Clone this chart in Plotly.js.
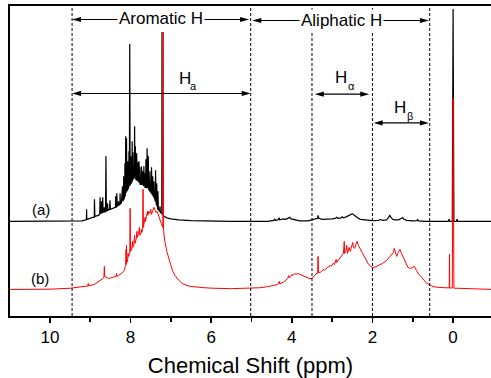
<!DOCTYPE html>
<html>
<head>
<meta charset="utf-8">
<script src="https://cdn.plot.ly/plotly-3.0.1.min.js"></script>
<style>
  html, body { margin: 0; padding: 0; background: #fff; }
  #chart { width: 491px; height: 378px; }
</style>
</head>
<body>
<div id="chart"></div>
<script>
// 1H NMR spectra, [chemical shift (ppm), intensity above baseline (a.u.)]
const spectrumA = [
  [11.0,0],[9.3,0],[9.2,0.5],[9.12,1.5],[9.095,1.5],[9.09,12],[9.085,2],[9.0,3],[8.95,4],[8.9,4],
  [8.895,22],[8.885,5],[8.8,6],[8.765,7],[8.755,24],[8.745,8],[8.725,9],[8.72,20],[8.71,8],[8.695,9],
  [8.69,24],[8.68,9],[8.655,10],[8.65,14],[8.64,9],[8.62,10],[8.61,65],[8.60,10],[8.575,11],[8.57,18],
  [8.56,11],[8.52,12],[8.51,21],[8.50,12],[8.45,13],[8.40,14],[8.375,14],[8.37,25],[8.36,14],[8.345,15],
  [8.34,28],[8.33,15],[8.305,16],[8.30,20],[8.29,16],[8.265,17],[8.26,28],[8.25,17],[8.225,19],[8.22,24],
  [8.21,19],[8.20,35],[8.19,20],[8.175,22],[8.17,45],[8.16,22],[8.145,25],[8.14,58],[8.13,25],[8.12,85],
  [8.115,28],[8.10,83],[8.09,30],[8.075,32],[8.07,60],[8.06,32],[8.045,35],[8.04,70],[8.03,35],[8.02,177],
  [8.01,36],[7.995,38],[7.99,65],[7.98,38],[7.965,40],[7.96,80],[7.955,40],[7.945,42],[7.94,69],[7.93,42],
  [7.905,44],[7.90,95],[7.89,44],[7.88,75],[7.87,42],[7.855,41],[7.85,68],[7.84,40],[7.825,40],[7.82,59],
  [7.81,40],[7.795,39],[7.79,60],[7.78,38],[7.77,54],[7.76,37],[7.735,37],[7.73,55],[7.72,37],[7.705,36],
  [7.70,50],[7.69,36],[7.675,35],[7.67,55],[7.66,35],[7.65,48],[7.64,34],[7.625,34],[7.62,62],[7.61,34],
  [7.595,33],[7.59,73],[7.58,33],[7.565,33],[7.56,65],[7.55,32],[7.525,30],[7.52,50],[7.51,30],[7.485,28],
  [7.48,54],[7.47,28],[7.455,26],[7.45,45],[7.44,26],[7.425,24],[7.42,40],[7.41,24],[7.385,20],[7.38,51],
  [7.37,20],[7.355,16],[7.35,38],[7.34,16],[7.325,12],[7.32,30],[7.31,12],[7.28,10],[7.27,15],[7.26,9],
  [7.225,8],[7.22,189],[7.215,7],[7.15,4.5],[7.1,3.5],[7.0,2.5],[6.8,1.5],[6.5,0.8],[6.0,0.3],[5.5,0],
  [4.6,0],[4.5,0.5],[4.45,1],[4.42,2.5],[4.41,1],[4.35,1.5],[4.31,3.5],[4.30,1.5],[4.25,2],[4.20,2.5],
  [4.15,2],[4.10,3],[4.05,4],[4.02,2.5],[3.97,2],[3.9,1],[3.8,0.5],[3.6,0.5],[3.5,1.5],[3.47,2],
  [3.40,2.5],[3.36,3],[3.35,6],[3.33,3],[3.25,2],[3.1,2],[3.0,2.5],[2.92,3],[2.89,4],[2.85,3],
  [2.78,3.5],[2.75,4.5],[2.72,3.5],[2.65,4.5],[2.60,5.5],[2.55,6.5],[2.50,7.7],[2.45,6],[2.40,4],[2.35,3],
  [2.3,2],[2.2,1.5],[2.1,1],[2.0,0.8],[1.85,1],[1.8,1.8],[1.75,1],[1.65,1.5],[1.6,4],[1.57,6],
  [1.54,4],[1.5,2],[1.45,1.5],[1.35,1.5],[1.28,3],[1.25,3.7],[1.22,2],[1.15,1],[1.0,0.5],[0.9,0.6],
  [0.88,2],[0.86,0.5],[0.7,0],[0.12,0],[0.1,2],[0.08,0],[0.02,0],[0.0,212],[-0.02,0],[-0.08,0],
  [-0.1,2],[-0.12,0],[-1.0,0]
];

const spectrumB = [
  [11.0,0],[10.0,0.3],[9.5,1.2],[9.2,2.5],[9.1,3],[9.055,3.5],[9.05,6],[9.045,3.5],[8.9,5],[8.8,7.5],
  [8.76,9],[8.70,10.5],[8.66,12],[8.65,23],[8.64,13],[8.60,12],[8.55,11],[8.5,11.5],[8.45,12],[8.40,13],
  [8.36,13],[8.35,16],[8.34,13],[8.3,14],[8.25,15],[8.22,16],[8.18,18],[8.15,19],[8.14,22],[8.12,24],
  [8.11,40],[8.105,25],[8.10,44],[8.09,27],[8.07,30],[8.06,36],[8.05,33],[8.02,35],[8.01,81],[8.0,38],
  [7.97,40],[7.95,48],[7.94,42],[7.92,44],[7.90,54],[7.89,46],[7.86,50],[7.84,58],[7.83,52],[7.80,56],
  [7.78,62],[7.77,54],[7.75,55],[7.73,60],[7.72,57],[7.70,60],[7.69,100],[7.68,62],[7.66,68],[7.64,72],
  [7.63,68],[7.60,73],[7.58,78],[7.57,74],[7.55,78],[7.52,76],[7.50,80],[7.48,75],[7.45,79],[7.42,82],
  [7.40,80],[7.37,77],[7.34,78],[7.31,74],[7.28,70],[7.24,66],[7.20,62],[7.19,257],[7.18,58],[7.15,48],
  [7.10,38],[7.05,30],[7.00,24],[6.95,18],[6.9,14],[6.8,9],[6.7,5.5],[6.6,4],[6.5,3],[6.2,1.8],
  [6.0,1.3],[5.5,0.8],[5.0,1],[4.8,1.7],[4.6,2.8],[4.46,4],[4.35,5],[4.31,8],[4.30,5.5],[4.2,7.5],
  [4.13,9.7],[4.10,11],[4.08,14],[4.06,11.5],[4.03,13],[4.00,15],[3.97,14],[3.93,16],[3.90,15],[3.85,16],
  [3.80,15],[3.75,14],[3.68,13],[3.60,11.5],[3.55,10.7],[3.50,11],[3.45,13],[3.40,15.5],[3.36,16],[3.35,33],
  [3.34,17],[3.30,17],[3.26,18],[3.22,20],[3.20,19],[3.14,21],[3.10,22],[3.05,24],[3.02,23],[2.98,26],
  [2.94,25],[2.90,30],[2.89,27],[2.85,29],[2.81,31],[2.76,33],[2.72,36],[2.70,48],[2.69,36],[2.66,38],
  [2.64,44],[2.62,36],[2.58,42],[2.55,38],[2.52,44],[2.49,47],[2.47,42],[2.44,41],[2.41,45],[2.38,48],
  [2.35,44],[2.31,41],[2.27,37],[2.23,34],[2.19,31],[2.15,28],[2.11,26],[2.05,23],[2.0,22],[1.95,22],
  [1.9,23],[1.82,24],[1.75,26],[1.65,29],[1.58,32],[1.53,34],[1.48,37],[1.46,41],[1.43,36],[1.40,33],
  [1.36,37],[1.32,40],[1.28,36],[1.24,32],[1.18,26],[1.12,22],[1.06,21],[1.0,22.5],[0.96,23],[0.91,19],
  [0.85,15],[0.78,12],[0.72,9],[0.66,6.3],[0.55,4],[0.5,3],[0.4,2.2],[0.25,1.7],[0.12,1.4],[0.095,1.5],
  [0.09,35],[0.085,1.5],[0.02,1.4],[0.0,191],[-0.02,1.3],[-0.5,0.5],[-1.0,0]
];

// Region boundaries (ppm)
const regionBounds = [9.45, 5.02, 3.5, 2.0, 0.58];
const xTicks = [10, 8, 6, 4, 2, 0];

// vertical stacking of the two spectra
const offsetA = 94.5;
const offsetB = 26.5;

const FONT = 'Liberation Sans, Arial, Helvetica, sans-serif';
const X_RANGE = [10.99, -0.94];
const Y_RANGE = [0, 309.5];

const traceA = {
  x: spectrumA.map(p => p[0]),
  y: spectrumA.map(p => p[1] + offsetA),
  mode: 'lines', line: {color: '#000000', width: 1.2},
  hoverinfo: 'skip', showlegend: false
};
const traceB = {
  x: spectrumB.map(p => p[0]),
  y: spectrumB.map(p => p[1] + offsetB),
  mode: 'lines', line: {color: '#ff0000', width: 1},
  hoverinfo: 'skip', showlegend: false
};

const shapes = regionBounds.map(v => ({
  type: 'line', xref: 'x', yref: 'paper', x0: v, x1: v, y0: 0, y1: 1,
  line: {color: '#000', width: 1, dash: '3px,2px'}
}));

// double-headed arrow drawn as a line plus two filled heads
// (head length/half-width given in pixels, converted to axis units)
const PLOT_W = 481, PLOT_H = 310;
const pxX = (X_RANGE[0] - X_RANGE[1]) / PLOT_W;
const pxY = (Y_RANGE[1] - Y_RANGE[0]) / PLOT_H;
function span(xl, xr, y) {
  const L = 9 * pxX, h = 2.6 * pxY;
  shapes.push({type: 'line', xref: 'x', yref: 'y', x0: xl - L * 0.5, x1: xr + L * 0.5, y0: y, y1: y,
    line: {color: '#000', width: 1.1}});
  shapes.push({type: 'path', xref: 'x', yref: 'y',
    path: `M${xl},${y} L${xl - L},${y + h} L${xl - L},${y - h} Z`,
    fillcolor: '#000', line: {width: 0}});
  shapes.push({type: 'path', xref: 'x', yref: 'y',
    path: `M${xr},${y} L${xr + L},${y + h} L${xr + L},${y - h} Z`,
    fillcolor: '#000', line: {width: 0}});
}
function label(text, x, y, size, bg) {
  return {
    x: x, y: y, xref: 'x', yref: 'y', text: text, showarrow: false,
    font: {family: FONT, size: size, color: '#000'},
    bgcolor: bg || 'rgba(0,0,0,0)', borderpad: 1
  };
}

span(regionBounds[0], 5.06, 296);
span(4.98, 0.6, 295);
span(regionBounds[0], regionBounds[1], 222.2);
span(3.43, 2.08, 221.5);
span(1.97, 0.6, 192.8);

const annotations = [
  label('Aromatic H', 7.24, 297, 17, '#fff'),
  label('Aliphatic H', 2.77, 295.5, 17, '#fff'),
  // proton-type labels: H with a small lowered subscript
  label('H', 6.65, 237, 17),
  label('a', 6.43, 229.5, 11),
  label('H', 2.78, 238, 17),
  label('α', 2.52, 229.5, 11),
  label('H', 1.32, 208.5, 17),
  label('β', 1.08, 200, 11),
  label('(a)', 10.22, 106.5, 15),
  label('(b)', 10.24, 37.5, 15)
];

const layout = {
  width: 491, height: 378,
  margin: {l: 10, r: 0, t: 6, b: 62},
  paper_bgcolor: '#fff', plot_bgcolor: '#fff',
  font: {family: FONT, color: '#000'},
  xaxis: {
    range: X_RANGE,
    tickmode: 'array', tickvals: xTicks, ticktext: xTicks.map(String),
    ticks: 'outside', ticklen: 5, tickwidth: 1.5, tickcolor: '#000',
    minor: {dtick: 1, tick0: 1, ticks: 'outside', ticklen: 4, tickwidth: 1.5, tickcolor: '#000'},
    showline: true, linewidth: 2, linecolor: '#000', mirror: true,
    showgrid: false, zeroline: false,
    tickfont: {family: FONT, size: 17, color: '#000'},
    title: {text: 'Chemical Shift (ppm)', font: {family: FONT, size: 22, color: '#000'}, standoff: 12}
  },
  yaxis: {
    range: Y_RANGE,
    showline: true, linewidth: 2, linecolor: '#000',
    showticklabels: false, ticks: '', showgrid: false, zeroline: false
  },
  shapes: shapes,
  annotations: annotations
};

Plotly.newPlot('chart', [traceA, traceB], layout, {staticPlot: true, displayModeBar: false});
</script>
</body>
</html>
